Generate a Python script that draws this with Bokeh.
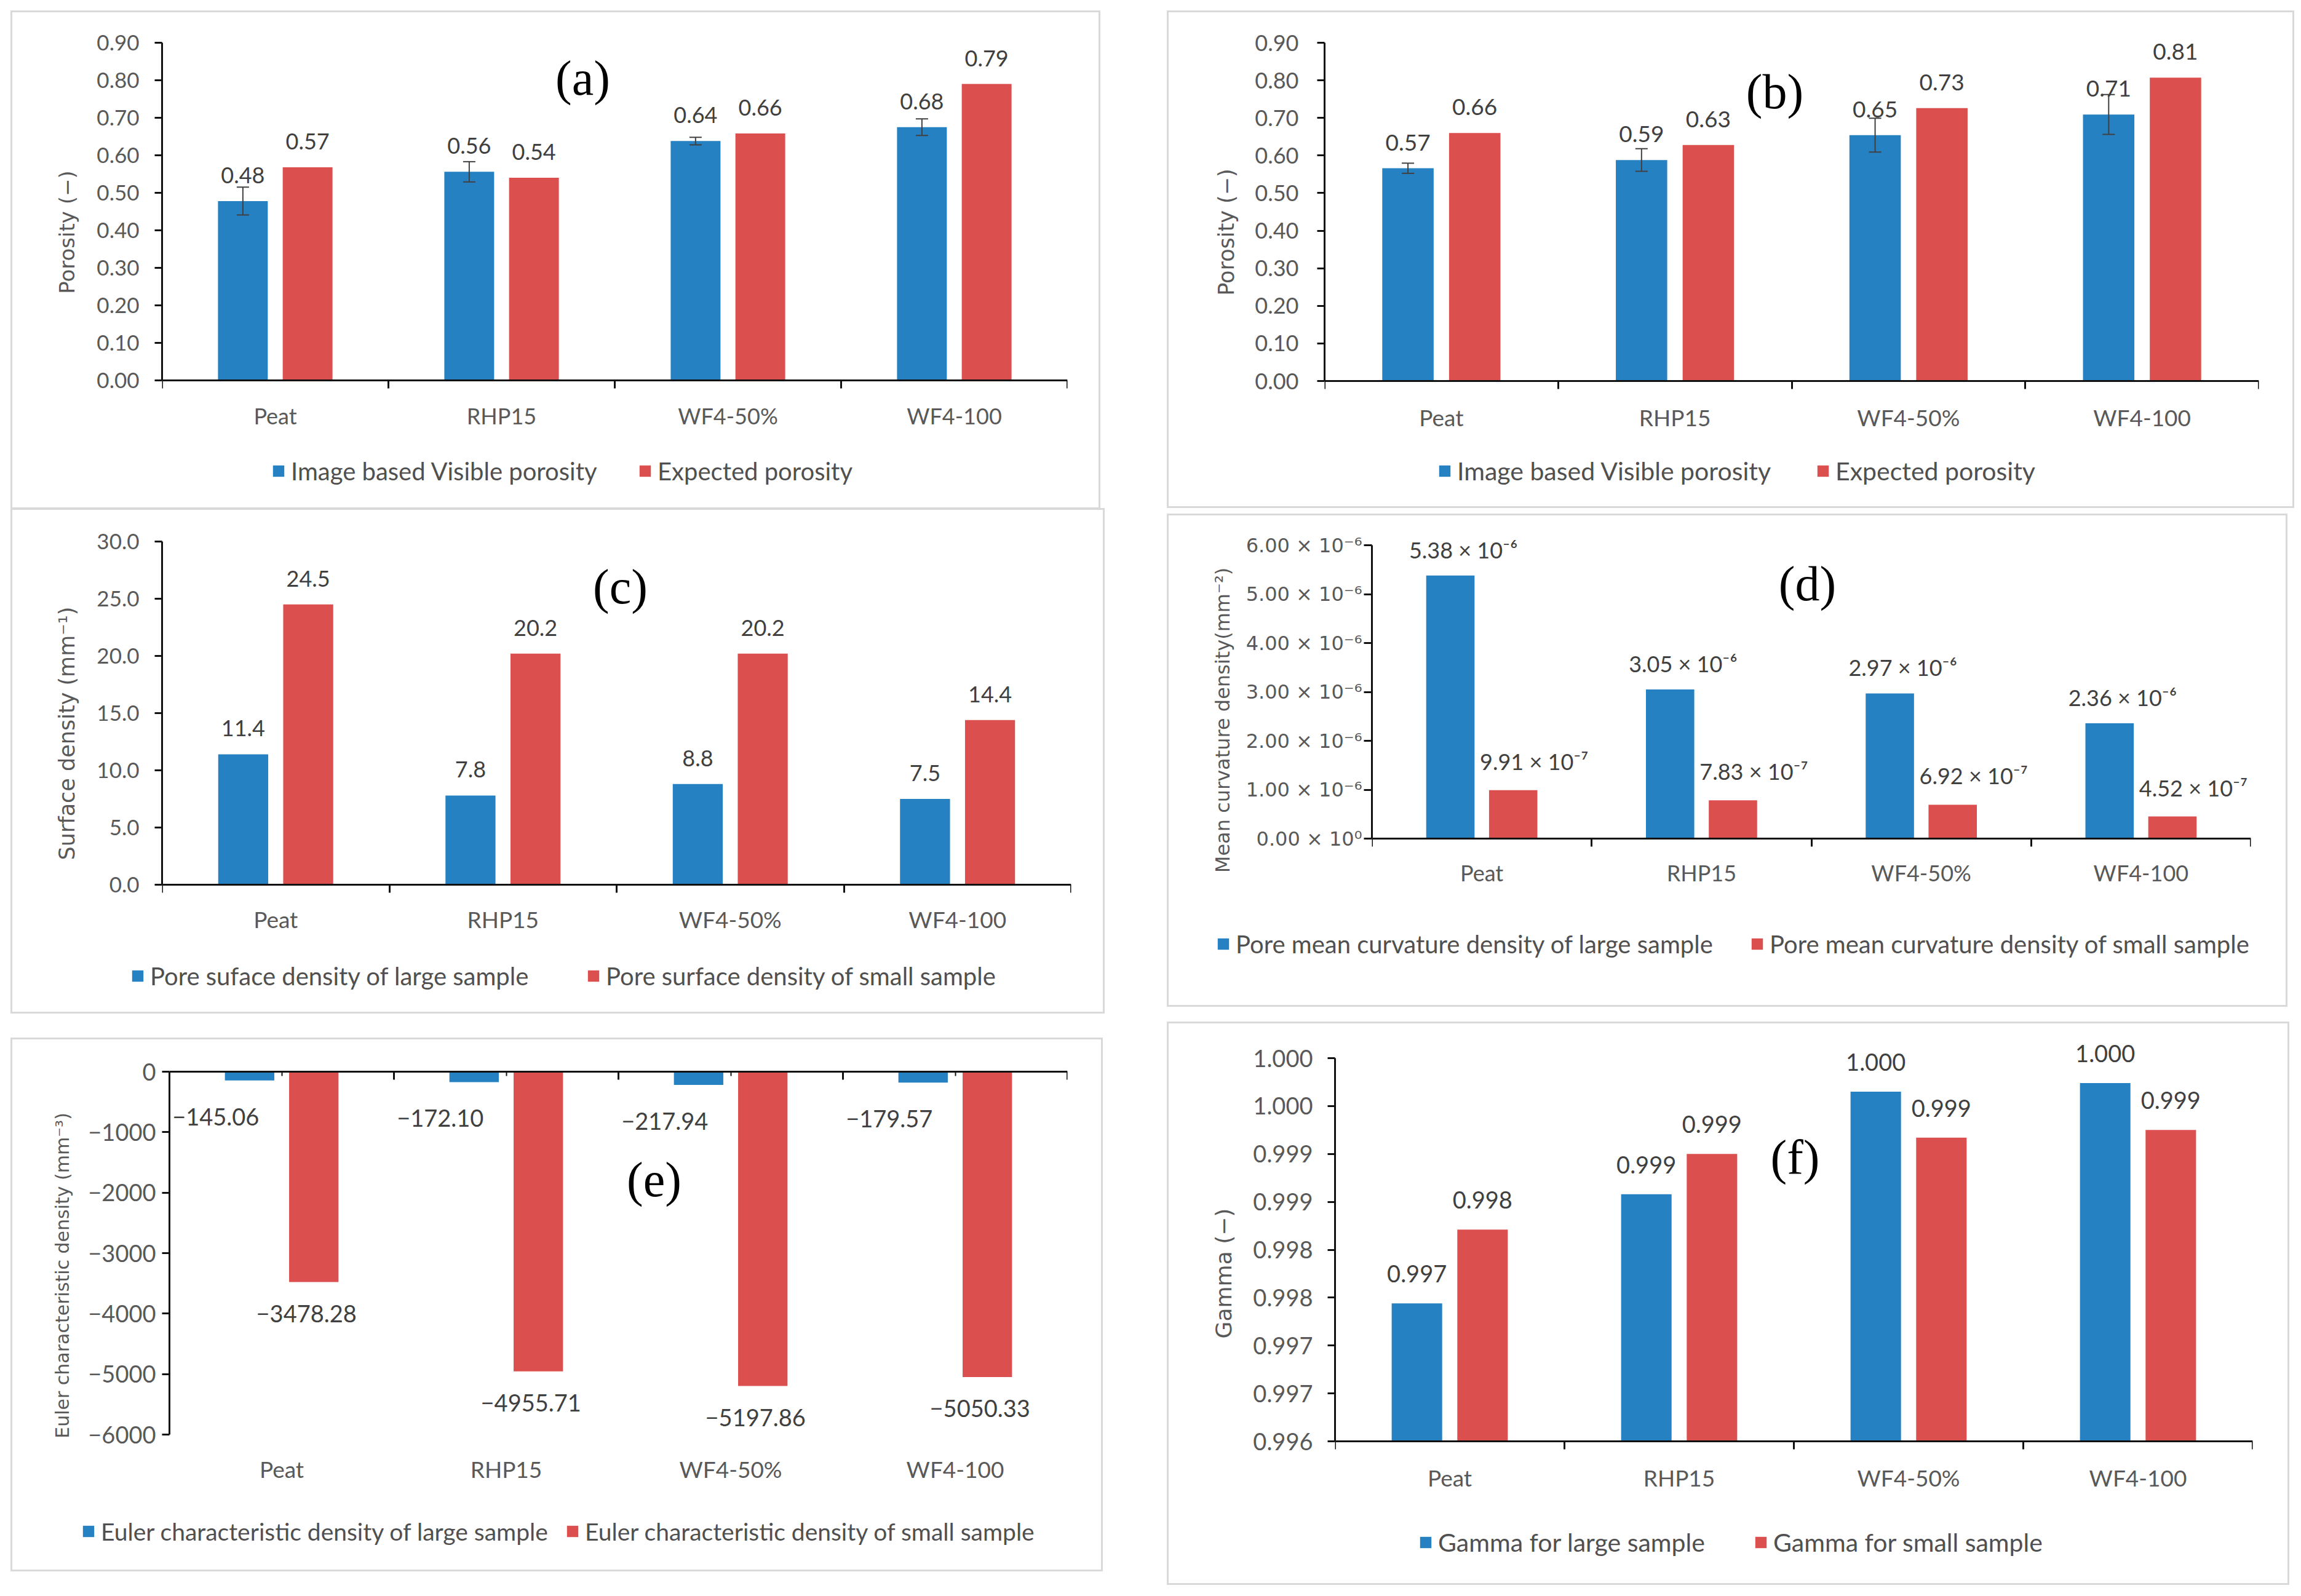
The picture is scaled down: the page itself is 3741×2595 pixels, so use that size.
import math
from bokeh.plotting import figure
from bokeh.models import (ColumnDataSource, FactorRange, Range1d, LinearAxis, FixedTicker,
                          Whisker, TeeHead, Label, Legend, LegendItem)
from bokeh.transform import dodge
from bokeh.layouts import row, column
from bokeh.core.properties import value
from bokeh.embed import file_html
from bokeh.resources import INLINE

# ---------------- data ----------------
CATEGORIES = ["Peat", "RHP15", "WF4-50%", "WF4-100"]

A_VISIBLE = [0.478, 0.556, 0.638, 0.675]
A_VISIBLE_ERR = [0.037, 0.027, 0.010, 0.022]
A_EXPECTED = [0.568, 0.540, 0.658, 0.790]

B_VISIBLE = [0.566, 0.588, 0.654, 0.709]
B_VISIBLE_ERR = [0.0135, 0.030, 0.045, 0.053]
B_EXPECTED = [0.660, 0.628, 0.726, 0.807]

C_LARGE = [11.4, 7.8, 8.8, 7.5]
C_SMALL = [24.5, 20.2, 20.2, 14.4]

D_LARGE = [5.38e-6, 3.05e-6, 2.97e-6, 2.36e-6]
D_SMALL = [9.91e-7, 7.83e-7, 6.92e-7, 4.52e-7]

E_LARGE = [-145.06, -172.10, -217.94, -179.57]
E_SMALL = [-3478.28, -4955.71, -5197.86, -5050.33]

F_LARGE = [0.99744, 0.99858, 0.99965, 0.99974]
F_SMALL = [0.99821, 0.99900, 0.99917, 0.99925]

POROSITY_TICKS = [0.0, 0.1, 0.2, 0.3, 0.4, 0.5, 0.6, 0.7, 0.8, 0.9]
SURFACE_TICKS = [0.0, 5.0, 10.0, 15.0, 20.0, 25.0, 30.0]
CURV_TICKS = [0.0, 1e-6, 2e-6, 3e-6, 4e-6, 5e-6, 6e-6]
EULER_TICKS = [-6000, -5000, -4000, -3000, -2000, -1000, 0]
GAMMA_TICKS = [0.996, 0.9965, 0.997, 0.9975, 0.998, 0.9985, 0.999, 0.9995, 1.000]
GAMMA_TICK_LABELS = ["0.996", "0.997", "0.997", "0.998", "0.998", "0.999", "0.999", "1.000", "1.000"]

LEG_A = ["Image based Visible porosity", "Expected porosity"]
LEG_C = ["Pore suface density of large sample", "Pore surface density of small sample"]
LEG_D = ["Pore mean curvature density of large sample", "Pore mean curvature density of small sample"]
LEG_E = ["Euler characteristic density of large sample", "Euler characteristic density of small sample"]
LEG_F = ["Gamma for large sample", "Gamma for small sample"]

# ---------------- style ----------------
BLUE = "#2681C2"
RED = "#DC4F4F"
AXIS = "#111111"
TICK_TEXT = "#595959"
DATA_TEXT = "#404040"
SANS = "Lato"
TITLE_FONT = "DejaVu Sans"
SERIF = "Liberation Serif"
OFF = 0.143
BAR_W = 0.22
GLYPH = 23
STANDOFF = 9
PAD = 6
LEG_H = 49

SUP = str.maketrans("-0123456789", "\u207b\u2070\u00b9\u00b2\u00b3\u2074\u2075\u2076\u2077\u2078\u2079")


def sci(v, sep):
    if v == 0:
        return "0.00" + sep + "10" + "0".translate(SUP)
    e = int(math.floor(math.log10(abs(v)) + 1e-9))
    m = v / 10 ** e
    return f"{m:.2f}{sep}10{str(e).translate(SUP)}"


def minus(s):
    return s.replace("-", "\u2212")


def make_panel(width, height, borders, margin, y_range, y_ticks, y_labels, y_title,
               large, small, large_text, small_text, legend_names, tag, tag_pos,
               legend_dx, legend_below, fs, large_err=None, offsets=None,
               negative=False, tick_font=SANS):
    # borders: where the category span / value span sit inside the panel (pixels)
    left, right, top, bottom = borders
    n = len(CATEGORIES)
    y0, y1 = y_range
    axis_h = height - top - bottom
    legend_center = bottom - legend_below  # legend centre, pixels above panel bottom
    strip_h = legend_center + 32
    main_h = height - strip_h
    lift = bottom - strip_h                # pixels from bottom of main plot up to y0
    upp = (y1 - y0) / axis_h
    y_start = y0 - lift * upp
    y_end = y1 + (top - PAD) * upp

    p = figure(width=width, height=main_h, x_range=FactorRange(*CATEGORIES),
               y_range=Range1d(y_start, y_end), x_axis_type=None, y_axis_type=None,
               output_backend="svg", toolbar_location=None,
               min_border_left=left, min_border_right=right,
               min_border_top=PAD, min_border_bottom=0,
               outline_line_color=None, background_fill_color="white",
               border_fill_color="white")
    p.frame_align = False
    centers = [i + 0.5 for i in range(n)]
    bounds = [float(i) for i in range(n + 1)]

    # value axis
    yax = LinearAxis(ticker=FixedTicker(ticks=y_ticks, minor_ticks=[]),
                     major_label_overrides=dict(zip(y_ticks, y_labels)),
                     bounds=(y0, y1),
                     axis_label=y_title, axis_label_text_font=TITLE_FONT,
                     axis_label_text_font_size=f"{fs['title']}px",
                     axis_label_text_color="#595959", axis_label_text_font_style="normal",
                     axis_label_standoff=fs["title_standoff"],
                     major_label_text_font=tick_font,
                     major_label_text_font_size=f"{fs['ytick']}px",
                     major_label_text_color=TICK_TEXT,
                     major_label_standoff=fs["ytick_standoff"],
                     major_tick_out=fs.get("ytick_out", 12), major_tick_in=0,
                     major_tick_line_color=AXIS, major_tick_line_width=3,
                     minor_tick_line_color=None,
                     axis_line_color=AXIS, axis_line_width=3)
    p.add_layout(yax, "left")

    # category axis (pinned at the base of the value span)
    if not negative:
        xax = LinearAxis(ticker=FixedTicker(ticks=centers, minor_ticks=bounds),
                         fixed_location=y0, bounds=(0, n),
                         major_label_overrides=dict(zip(centers, CATEGORIES)),
                         major_tick_line_color=None, major_tick_out=0, major_tick_in=0,
                         minor_tick_out=13, minor_tick_in=0,
                         minor_tick_line_color=AXIS, minor_tick_line_width=3,
                         axis_line_color=AXIS, axis_line_width=3,
                         major_label_standoff=fs["cat_standoff"],
                         major_label_text_font=SANS,
                         major_label_text_font_size=f"{fs['cat']}px",
                         major_label_text_color=TICK_TEXT)
        p.add_layout(xax, "below")
    else:
        topax = LinearAxis(ticker=FixedTicker(ticks=bounds, minor_ticks=centers),
                           fixed_location=y1, bounds=(0, n),
                           major_label_overrides={b: "" for b in bounds},
                           major_label_text_font_size="0px",
                           major_tick_out=0, major_tick_in=13,
                           minor_tick_out=0, minor_tick_in=7,
                           major_tick_line_color=AXIS, major_tick_line_width=3,
                           minor_tick_line_color=AXIS, minor_tick_line_width=2,
                           axis_line_color=AXIS, axis_line_width=3)
        p.add_layout(topax, "above")
        xax = LinearAxis(ticker=FixedTicker(ticks=centers, minor_ticks=[]),
                         fixed_location=y0, bounds=(0, n),
                         major_label_overrides=dict(zip(centers, CATEGORIES)),
                         axis_line_color=None, major_tick_line_color=None,
                         minor_tick_line_color=None,
                         major_tick_out=0, major_tick_in=0,
                         major_label_standoff=fs["cat_standoff"],
                         major_label_text_font=SANS,
                         major_label_text_font_size=f"{fs['cat']}px",
                         major_label_text_color=TICK_TEXT)
        p.add_layout(xax, "below")

    data = dict(cat=CATEGORIES, large=large, small=small,
                large_text=large_text, small_text=small_text)
    if large_err is not None:
        data["upper"] = [v + e for v, e in zip(large, large_err)]
        data["lower"] = [v - e for v, e in zip(large, large_err)]
    src = ColumnDataSource(data)
    base = 0 if negative else y0

    p.vbar(x=dodge("cat", -OFF, range=p.x_range), top="large", bottom=base,
           width=BAR_W, source=src, fill_color=BLUE, line_color=None)
    p.vbar(x=dodge("cat", OFF, range=p.x_range), top="small", bottom=base,
           width=BAR_W, source=src, fill_color=RED, line_color=None)

    if large_err is not None:
        w = Whisker(base=dodge("cat", -OFF, range=p.x_range), upper="upper", lower="lower",
                    source=src, line_color="#404040", line_width=2, level="overlay",
                    upper_head=TeeHead(size=20, line_color="#404040", line_width=2),
                    lower_head=TeeHead(size=20, line_color="#404040", line_width=2))
        p.add_layout(w)

    (lx, ly), (sx, sy) = offsets
    p.text(x=dodge("cat", -OFF, range=p.x_range), y="large", text="large_text", source=src,
           x_offset=lx, y_offset=ly, text_align="center", text_baseline="middle",
           text_font=value(SANS), text_font_size=f"{fs['data']}px", text_color=DATA_TEXT)
    p.text(x=dodge("cat", OFF, range=p.x_range), y="small", text="small_text", source=src,
           x_offset=sx, y_offset=sy, text_align="center", text_baseline="middle",
           text_font=value(SANS), text_font_size=f"{fs['data']}px", text_color=DATA_TEXT)

    # panel tag
    p.add_layout(Label(x=tag_pos[0], y=tag_pos[1] + lift, x_units="screen",
                       y_units="screen", text=tag, text_font=SERIF, text_font_size="80px",
                       text_color="black", text_align="center", text_baseline="middle"))

    # legend strip under the chart: same series, viewed far outside their value span,
    # so that only their legend keys show
    s = figure(width=width, height=strip_h, x_range=FactorRange(*CATEGORIES),
               y_range=Range1d(1e9, 2e9), x_axis_type=None, y_axis_type=None,
               output_backend="svg", toolbar_location=None,
               min_border_left=0, min_border_right=0, min_border_top=0, min_border_bottom=0,
               outline_line_color=None, background_fill_color="white",
               border_fill_color="white")
    s.frame_align = False
    key_l = s.vbar(x=dodge("cat", -OFF, range=s.x_range), top="large", bottom=base,
                   width=BAR_W, source=src, fill_color=BLUE, line_color=None)
    key_s = s.vbar(x=dodge("cat", OFF, range=s.x_range), top="small", bottom=base,
                   width=BAR_W, source=src, fill_color=RED, line_color=None)
    dx1, dx2 = legend_dx
    lg = Legend(items=[LegendItem(label=value(legend_names[0]), renderers=[key_l]),
                       LegendItem(label=value(legend_names[1]), renderers=[key_s])],
                location=(left + dx1, legend_center - LEG_H / 2 - 5),
                orientation="horizontal",
                padding=0, margin=0, spacing=0, glyph_width=GLYPH, glyph_height=GLYPH,
                label_standoff=STANDOFF, label_height=GLYPH,
                label_width=dx2 - dx1 - GLYPH - STANDOFF - 4,
                label_text_font=SANS, label_text_font_size=f"{fs['legend']}px",
                label_text_color="#505050", label_text_baseline="middle",
                border_line_color=None, background_fill_alpha=0)
    s.add_layout(lg, "center")

    box = column(p, s)
    box.margin = margin
    box.styles = {"outline": "3px solid #D9D9D9"}
    return box


def two(vals):
    return [f"{v:.2f}" for v in vals]


pa = make_panel(1766, 805, (243, 51, 49, 207), (16, 0, 0, 10), (0, 0.9),
                POROSITY_TICKS, [f"{t:.2f}" for t in POROSITY_TICKS], "Porosity (\u2212)",
                A_VISIBLE, A_EXPECTED, two(A_VISIBLE), two(A_EXPECTED), LEG_A, "(a)", (684, 492),
                (178, 778), 142,
                dict(title=34, title_standoff=25, ytick=35, ytick_standoff=25, cat=36,
                     cat_standoff=22, data=36, legend=40),
                large_err=A_VISIBLE_ERR, offsets=((0, -42), (0, -42)))

pb = make_panel(1827, 803, (253, 55, 49, 204), (16, 0, 0, 107), (0, 0.9),
                POROSITY_TICKS, [f"{t:.2f}" for t in POROSITY_TICKS], "Porosity (\u2212)",
                B_VISIBLE, B_EXPECTED, two(B_VISIBLE), two(B_EXPECTED), LEG_A, "(b)", (732, 471),
                (184, 803), 141,
                dict(title=35, title_standoff=23, ytick=36, ytick_standoff=30, cat=37,
                     cat_standoff=23, data=37, legend=41),
                large_err=B_VISIBLE_ERR, offsets=((0, -42), (0, -42)))

pc = make_panel(1773, 816, (243, 52, 51, 207), (4, 0, 0, 10), (0, 30),
                SURFACE_TICKS, [f"{t:.1f}" for t in SURFACE_TICKS],
                "Surface density (mm\u207b\u00b9)",
                C_LARGE, C_SMALL, [f"{v:.1f}" for v in C_LARGE], [f"{v:.1f}" for v in C_SMALL],
                LEG_C, "(c)", (745, 485), (-51, 694), 143,
                dict(title=35, title_standoff=25, ytick=35, ytick_standoff=25, cat=37,
                     cat_standoff=20, data=36, legend=40),
                offsets=((0, -42), (0, -42)))

pd_ = make_panel(1816, 796, (330, 57, 48, 271), (15, 0, 0, 107), (0, 6e-6),
                 CURV_TICKS, [sci(t, " \u00d7 ") for t in CURV_TICKS],
                 "Mean curvature density(mm\u207b\u00b2)",
                 D_LARGE, D_SMALL, [sci(v, " \u00d7 ") for v in D_LARGE],
                 [sci(v, " \u00d7 ") for v in D_SMALL],
                 LEG_D, "(d)", (708, 415), (-253, 619), 166,
                 dict(title=32, title_standoff=16, ytick=32, ytick_standoff=3, ytick_out=13,
                      cat=36, cat_standoff=20, data=36, legend=40),
                 offsets=((21, -42), (34, -47)), tick_font=TITLE_FONT)

pe = make_panel(1770, 862, (255, 55, 52, 220), (45, 0, 0, 10), (-6000, 0),
                EULER_TICKS, [minus(str(t)) for t in EULER_TICKS],
                "Euler characteristic density (mm\u207b\u00b3)",
                E_LARGE, E_SMALL, [minus(f"{v:.2f}") for v in E_LARGE],
                [minus(f"{v:.2f}") for v in E_SMALL],
                LEG_E, "(e)", (788, 415), (-143, 648), 151,
                dict(title=30, title_standoff=21, ytick=38, ytick_standoff=10, cat=37,
                     cat_standoff=33, data=38, legend=39),
                offsets=((-55, 59), (-12, 51)), negative=True)

pf = make_panel(1819, 910, (270, 57, 56, 231), (30, 0, 0, 107), (0.996, 1.0),
                GAMMA_TICKS, GAMMA_TICK_LABELS, "Gamma (\u2212)",
                F_LARGE, F_SMALL, [f"{v:.3f}" for v in F_LARGE], [f"{v:.3f}" for v in F_SMALL],
                LEG_F, "(f)", (748, 462), (136, 685), 159,
                dict(title=36, title_standoff=24, ytick=38, ytick_standoff=24, cat=37,
                     cat_standoff=23, data=38, legend=41),
                offsets=((0, -48), (0, -48)))

layout = row(column(pa, pc, pe), column(pb, pd_, pf))
layout.margin = (4, 0, 0, 10)

open("out.html", "w").write(file_html(layout, INLINE))
